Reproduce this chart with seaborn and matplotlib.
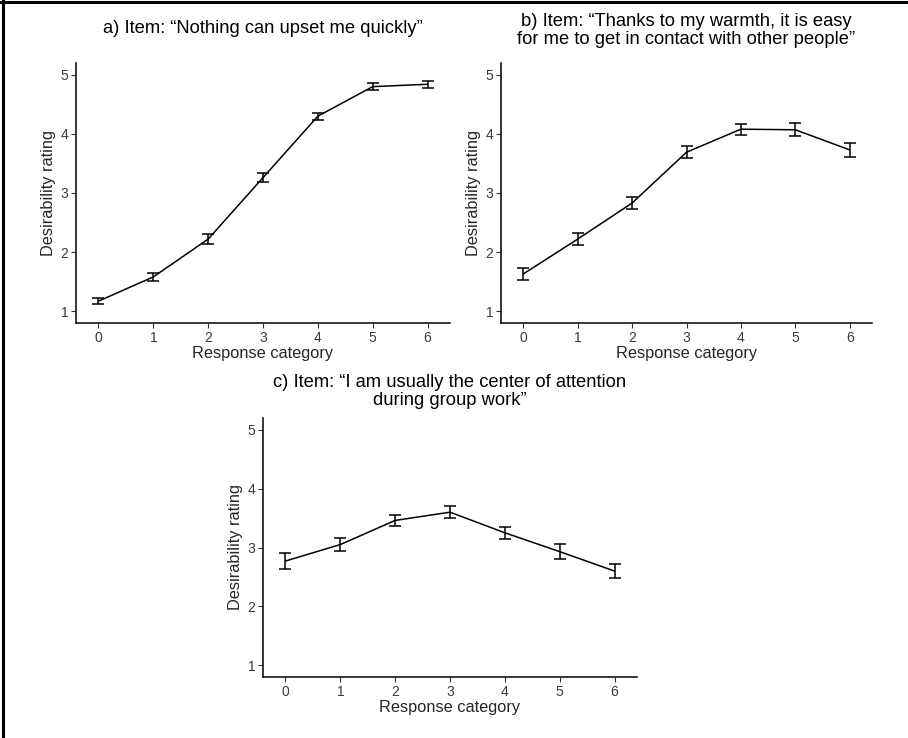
import matplotlib
matplotlib.use("Agg")
import matplotlib.pyplot as plt
from matplotlib.lines import Line2D
import pandas as pd
import seaborn as sns

# values (mean desirability and half-width of the error bars)
categories = [0, 1, 2, 3, 4, 5, 6]

mean_a = [1.17, 1.58, 2.22, 3.26, 4.30, 4.80, 4.84]
err_a = [0.045, 0.07, 0.085, 0.08, 0.06, 0.055, 0.055]

mean_b = [1.63, 2.22, 2.83, 3.69, 4.08, 4.07, 3.73]
err_b = [0.10, 0.095, 0.10, 0.10, 0.095, 0.11, 0.12]

mean_c = [2.77, 3.05, 3.46, 3.60, 3.25, 2.93, 2.60]
err_c = [0.14, 0.115, 0.10, 0.105, 0.105, 0.125, 0.12]

titles = [
    "a) Item: \u201cNothing can upset me quickly\u201d",
    "b) Item: \u201cThanks to my warmth, it is easy\nfor me to get in contact with other people\u201d",
    "c) Item: \u201cI am usually the center of attention\nduring group work\u201d",
]
y_ticks = [1, 2, 3, 4, 5]

sns.set_style("ticks")
plt.rcParams["font.family"] = ["Liberation Sans", "DejaVu Sans"]

W, H = 908, 738
fig = plt.figure(figsize=(W / 100, H / 100), dpi=100)


def px_axes(x0, x1, y0, y1):
    # axes box given in pixel coords (top-left origin)
    return fig.add_axes([x0 / W, 1 - y1 / H, (x1 - x0) / W, (y1 - y0) / H])


def panel(ax, means, errs, title, title_y):
    df = pd.DataFrame({"category": categories, "rating": means, "err": errs})
    sns.lineplot(data=df, x="category", y="rating", color="black", lw=1.1, ax=ax)
    ax.errorbar(df["category"], df["rating"], yerr=df["err"], fmt="none",
                ecolor="black", elinewidth=1.1, capsize=4, capthick=1.1)
    ax.set_xlim(-0.41, 6.41)
    ax.set_ylim(0.8, 5.2)
    ax.set_xticks(categories)
    ax.set_yticks(y_ticks)
    ax.set_xlabel("Response category", fontsize=11.8, labelpad=1)
    ax.set_ylabel("Desirability rating", fontsize=11.8, labelpad=3)
    ax.tick_params(length=3.5, width=0.8, color="#333333", labelcolor="#3a3a3a",
                   labelsize=10, pad=2)
    for s in ("left", "bottom"):
        ax.spines[s].set_linewidth(1.1)
        ax.spines[s].set_color("black")
    sns.despine(ax=ax)
    bb = ax.get_position()
    # title_y = baseline of the last title line, in pixels from the top
    fig.text(bb.x0 + bb.width / 2, 1 - title_y / H, title, ha="center",
             va="baseline", fontsize=13.2, color="black", linespacing=1.05)


ax_a = px_axes(76, 450, 63, 323)
ax_b = px_axes(501, 872, 63, 323)
ax_c = px_axes(263, 637, 418, 677)

panel(ax_a, mean_a, err_a, titles[0], 33.3)
panel(ax_b, mean_b, err_b, titles[1], 43.5)
panel(ax_c, mean_c, err_c, titles[2], 405)

# frame lines on top and left edge of the image
fig.add_artist(Line2D([0, 1], [1 - 2 / H, 1 - 2 / H], transform=fig.transFigure,
                      color="black", lw=2.2))
fig.add_artist(Line2D([3 / W, 3 / W], [0, 1], transform=fig.transFigure,
                      color="black", lw=2.2))

fig.savefig("out.png", dpi=100)
